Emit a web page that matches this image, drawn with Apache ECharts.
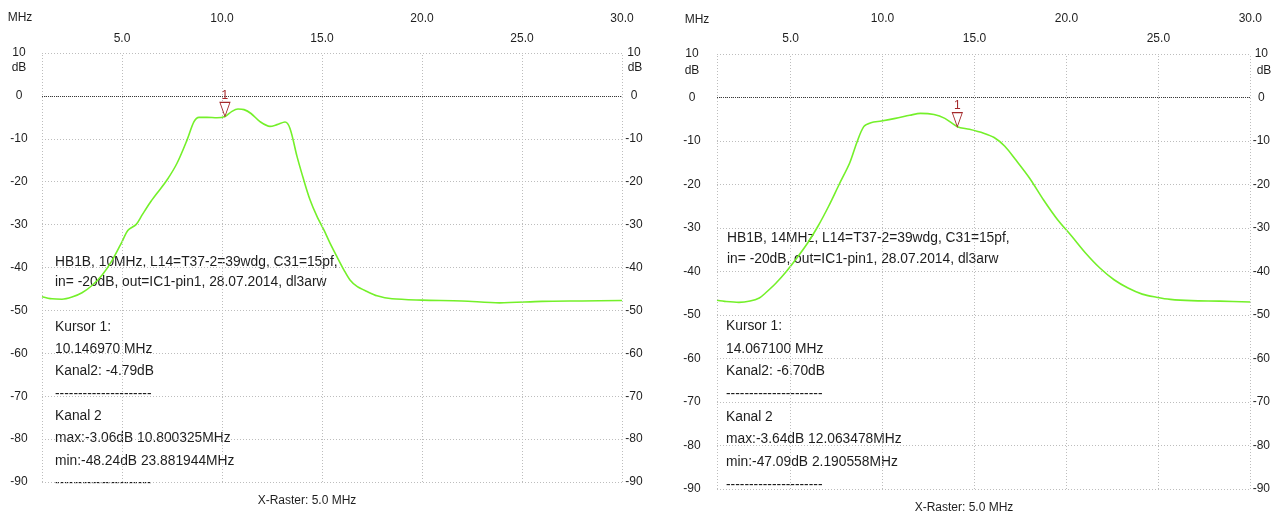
<!DOCTYPE html>
<html>
<head>
<meta charset="utf-8">
<script src="https://cdn.jsdelivr.net/npm/echarts@6/dist/echarts.min.js"></script>
<style>
  html, body { margin: 0; padding: 0; background: #fff; }
  #c { width: 1273px; height: 515px; }
</style>
</head>
<body>
<div id="c"></div>
<script>
// Kanal 2 trace, 10 MHz band filter (MHz / dB)
const freq10 = [1.0, 1.5, 2.0, 2.5, 3.0, 3.5, 4.0, 4.5, 5.0, 5.3, 5.7, 6.0, 6.4, 6.75, 7.25, 7.75, 8.25, 8.6, 8.85, 9.25, 9.75, 10.147, 10.5, 10.8, 11.1, 11.45, 11.9, 12.4, 12.75, 13.15, 13.4, 13.75, 14.1, 14.4, 14.75, 15.1, 15.4, 15.75, 16.1, 16.4, 16.75, 17.25, 17.75, 18.5, 20.0, 22.0, 23.88, 26.0, 28.0, 30.0];
const level10 = [-46.8, -47.3, -47.4, -46.9, -45.9, -44.2, -41.8, -38.4, -34.0, -31.3, -30.0, -27.8, -24.9, -22.7, -19.6, -15.7, -10.3, -6.0, -5.0, -5.0, -5.1, -4.79, -3.6, -3.06, -3.2, -4.1, -6.0, -7.1, -6.7, -6.1, -7.6, -14.1, -19.8, -24.2, -28.1, -31.3, -34.3, -37.5, -40.6, -42.9, -44.4, -45.6, -46.6, -47.3, -47.6, -47.8, -48.24, -47.9, -47.8, -47.7];

// Kanal 2 trace, 14 MHz band filter (MHz / dB)
const freq14 = [1.0, 1.5, 2.19, 2.8, 3.3, 3.62, 4.2, 4.77, 5.34, 5.92, 6.49, 7.07, 7.64, 8.22, 8.6, 8.98, 9.37, 9.94, 10.7, 11.48, 12.06, 12.8, 13.39, 14.067, 14.73, 15.5, 16.07, 16.65, 17.22, 17.99, 18.75, 19.52, 20.29, 21.05, 21.82, 22.59, 23.35, 24.12, 24.89, 25.65, 26.8, 28.33, 30.0];
const level14 = [-46.6, -46.9, -47.09, -46.8, -46.1, -45.0, -42.7, -40.0, -36.9, -33.5, -29.6, -25.0, -20.0, -15.0, -10.4, -6.7, -5.8, -5.4, -4.8, -4.1, -3.64, -3.9, -4.8, -6.70, -7.3, -8.2, -9.2, -11.2, -14.2, -18.5, -23.5, -28.1, -31.9, -35.8, -39.2, -41.9, -43.8, -45.2, -45.9, -46.4, -46.7, -46.8, -47.0];

// Cursor 1 positions
const cursor10 = [10.146970, -4.79];
const cursor14 = [14.067100, -6.70];

// Frequency axis labels (two staggered rows) and raster lines
const xLabelsLower = [5, 15, 25];
const xLabelsUpper = [10, 20, 30];
const xRaster = [1, 5, 10, 15, 20, 25, 30];
const xMin = 1, xMax = 30;
const dbMin = -90, dbMax = 10, dbStep = 10;

// Annotation texts
const info10 = ['HB1B, 10MHz, L14=T37-2=39wdg, C31=15pf,', 'in= -20dB, out=IC1-pin1, 28.07.2014, dl3arw'];
const info14 = ['HB1B, 14MHz, L14=T37-2=39wdg, C31=15pf,', 'in= -20dB, out=IC1-pin1, 28.07.2014, dl3arw'];
const dashes = '---------------------';
const readout10 = ['Kursor 1:', '10.146970 MHz', 'Kanal2: -4.79dB', dashes, 'Kanal 2', 'max:-3.06dB 10.800325MHz', 'min:-48.24dB 23.881944MHz', dashes];
const readout14 = ['Kursor 1:', '14.067100 MHz', 'Kanal2: -6.70dB', dashes, 'Kanal 2', 'max:-3.64dB 12.063478MHz', 'min:-47.09dB 2.190558MHz', dashes];
const rasterNote = 'X-Raster: 5.0 MHz';

const FONT = '"Liberation Sans", Arial, sans-serif';
const TRACE = '#74f02a';
const MARK = '#a4282a';
const INK = '#1e1e1e';

const panels = [
  { box: { left: 42, top: 53, width: 580, height: 429 }, freq: freq10, level: level10, cursor: cursor10,
    info: info10, infoX: 55, infoY: [262, 282], readout: readout10, readX: 55, readY0: 327, readStep: 22.3,
    raster: [307, 501], rowLo: 8, rowHi: 20, yMarginL: 23, yMarginR: 12, mhz: [20, 18], db: [[19, 68], [635, 68]] },
  { box: { left: 717, top: 54, width: 536, height: 435 }, freq: freq14, level: level14, cursor: cursor14,
    info: info14, infoX: 727, infoY: [238, 259], readout: readout14, readX: 726, readY0: 326, readStep: 22.7,
    raster: [964, 508], rowLo: 9, rowHi: 20, yMarginL: 25, yMarginR: 11, mhz: [697, 20], db: [[692, 71], [1264, 71]] }
];

const grids = [], xAxes = [], yAxes = [], series = [], graphics = [];

function txt(x, y, s, align, size) {
  graphics.push({
    type: 'text', silent: true,
    style: { text: s, x: x, y: y, font: (size || 13.8) + 'px ' + FONT, fill: INK, align: align || 'left', verticalAlign: 'middle' }
  });
}

panels.forEach(function (p, i) {
  grids.push(Object.assign({ containLabel: false }, p.box));

  const xBase = { type: 'value', gridIndex: i, min: xMin, max: xMax, interval: 1, position: 'top',
    axisLine: { show: false }, axisTick: { show: false }, splitLine: { show: false } };
  xAxes.push(Object.assign({}, xBase, {
    offset: 0,
    axisLabel: { margin: p.rowLo, color: INK, fontSize: 12, fontFamily: FONT,
      formatter: function (v) { return xLabelsLower.indexOf(v) >= 0 ? v.toFixed(1) : ''; } }
  }));
  xAxes.push(Object.assign({}, xBase, {
    offset: p.rowHi,
    axisLabel: { margin: p.rowLo, color: INK, fontSize: 12, fontFamily: FONT,
      formatter: function (v) { return xLabelsUpper.indexOf(v) >= 0 ? v.toFixed(1) : ''; } }
  }));

  const yBase = { type: 'value', gridIndex: i, min: dbMin, max: dbMax, interval: dbStep,
    axisLine: { show: false }, axisTick: { show: false } };
  yAxes.push(Object.assign({}, yBase, {
    position: 'left',
    axisLabel: { margin: p.yMarginL, align: 'center', color: INK, fontSize: 12, fontFamily: FONT },
    splitLine: { show: true, lineStyle: { color: '#bdbdbd', width: 1, type: [1, 2] } }
  }));
  yAxes.push(Object.assign({}, yBase, {
    position: 'right',
    axisLabel: { margin: p.yMarginR, align: 'center', color: INK, fontSize: 12, fontFamily: FONT },
    splitLine: { show: false }
  }));

  // frequency raster and 0 dB reference
  series.push({
    type: 'line', xAxisIndex: 2 * i, yAxisIndex: 2 * i, data: [], silent: true, z: 1,
    markLine: {
      silent: true, symbol: 'none', animation: false, label: { show: false },
      data: xRaster.map(function (v) {
        return { xAxis: v, lineStyle: { color: '#bdbdbd', width: 1, type: [1, 2] } };
      }).concat([{ yAxis: 0, lineStyle: { color: '#3a3a3a', width: 1, type: [1, 1] } }])
    }
  });

  // measured trace with cursor 1
  series.push({
    type: 'line', xAxisIndex: 2 * i, yAxisIndex: 2 * i, z: 3,
    data: p.freq.map(function (f, k) { return [f, p.level[k]]; }),
    showSymbol: false, smooth: 0.3,
    lineStyle: { color: TRACE, width: 1.6 },
    markPoint: {
      silent: true, animation: false,
      symbol: 'path://M0,0L10,0L5,14Z', symbolSize: [10, 14], symbolOffset: [0, -7],
      itemStyle: { color: '#fff', borderColor: MARK, borderWidth: 1 },
      label: { show: true, position: 'top', distance: 0, formatter: '1', color: MARK, fontSize: 12, fontFamily: FONT },
      data: [{ coord: p.cursor }]
    }
  });

  txt(p.mhz[0], p.mhz[1], 'MHz', 'center', 12);
  txt(p.db[0][0], p.db[0][1], 'dB', 'center', 12);
  txt(p.db[1][0], p.db[1][1], 'dB', 'center', 12);
  p.info.forEach(function (s, k) { txt(p.infoX, p.infoY[k], s); });
  p.readout.forEach(function (s, k) { txt(p.readX, p.readY0 + k * p.readStep, s); });
  txt(p.raster[0], p.raster[1], rasterNote, 'center', 12);
});

const chart = echarts.init(document.getElementById('c'), null, { renderer: 'canvas' });
chart.setOption({
  animation: false,
  backgroundColor: '#fff',
  grid: grids,
  xAxis: xAxes,
  yAxis: yAxes,
  series: series,
  graphic: graphics
});
</script>
</body>
</html>
